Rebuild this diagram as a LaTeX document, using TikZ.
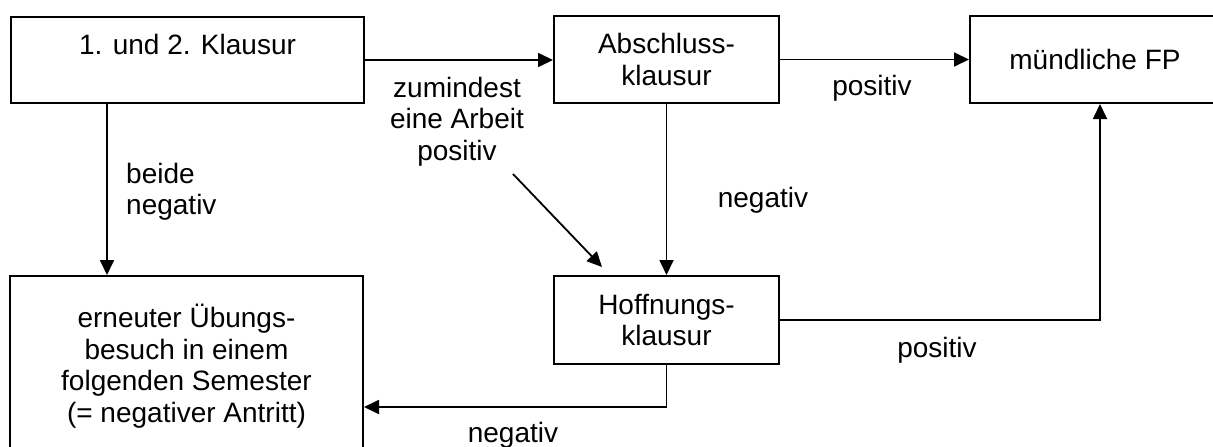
\documentclass[tikz,border=0pt]{standalone}
\usepackage{fontspec}
\setmainfont{Liberation Sans}
\usetikzlibrary{arrows.meta}
\tikzset{
  box/.style={draw, line width=2pt, inner sep=0pt, align=center},
  lbl/.style={inner sep=0pt},
  arr/.style={line width=1.8pt, -{Triangle[length=15pt,width=14pt]}}
}
\begin{document}
\begin{tikzpicture}[x=1pt, y=-1pt, font=\fontsize{28}{31.5}\selectfont]
\useasboundingbox (0,0) rectangle (1213,447);

\node[box, anchor=north west, minimum width=353pt, text height=37pt, text depth=49pt] (kl12) at (10,16) {1. und 2. Klausur};
\node[box, minimum width=225pt, minimum height=87pt] (absch) at (666.5,59.5) {Abschluss-\\klausur};
\node[box, minimum width=250pt, minimum height=87pt] (fp) at (1095,59.5) {mündliche FP};
\node[box, minimum width=225pt, minimum height=88pt] (hoff) at (666.5,320) {Hoffnungs-\\klausur};
\node[box, minimum width=353pt, minimum height=180pt] (wdh) at (186.5,366) {erneuter Übungs-\\besuch in einem\\folgenden Semester\\(= negativer Antritt)};

\coordinate (ax) at (107,0);
\coordinate (fx) at (1100,0);
\coordinate (ny) at (0,407);
\coordinate (d1) at (513,174);
\coordinate (d2) at (602,267);

\draw[arr] (kl12.east) -- (kl12.east -| absch.west);
\draw[arr] (absch.east) -- (fp.west);
\draw[arr] (kl12.south -| ax) -- (wdh.north -| ax);
\draw[arr] (absch.south) -- (hoff.north);
\draw[arr] (hoff.east) -| (fp.south -| fx);
\draw[arr] (hoff.south) |- (wdh.east |- ny);
\draw[arr] (d1) -- (d2);

\node[lbl, align=center] (zum) at (457,121.5) {zumindest\\eine Arbeit\\positiv};
\node[lbl, align=left, anchor=west] (beide) at (126,192) {beide\\negativ};
\node[lbl, anchor=base] (pos1) at (872,95) {positiv};
\node[lbl, anchor=base] (neg1) at (763,207) {negativ};
\node[lbl, anchor=base] (pos2) at (937,357) {positiv};
\node[lbl, anchor=base] (neg2) at (513,442) {negativ};

\end{tikzpicture}
\end{document}
